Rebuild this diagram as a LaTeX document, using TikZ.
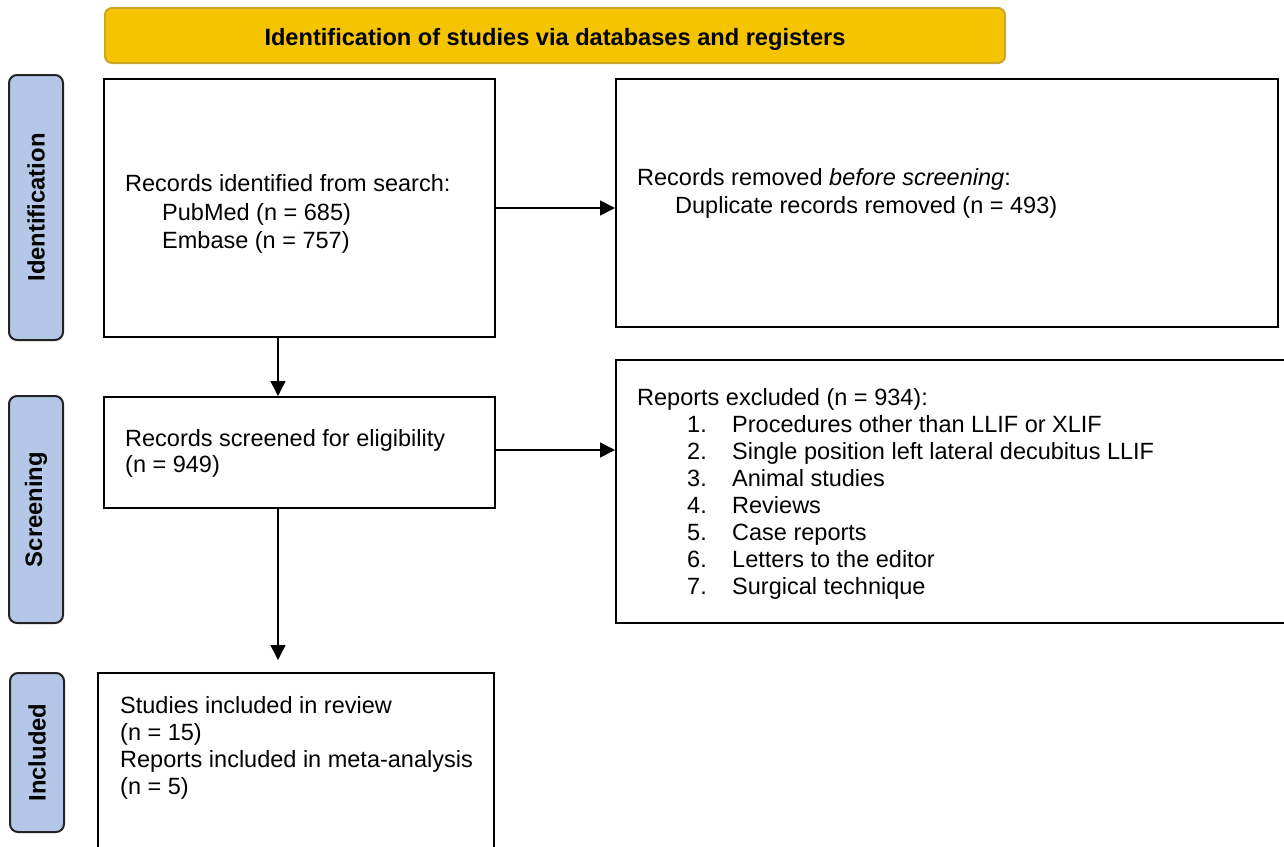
\documentclass[tikz,border=0pt]{standalone}
\usepackage{fontspec}
\setmainfont{Liberation Sans}
\usetikzlibrary{arrows.meta}
\definecolor{gold}{RGB}{245,196,0}
\definecolor{goldedge}{RGB}{205,165,40}
\definecolor{phasefill}{RGB}{180,199,231}
\definecolor{phaseedge}{RGB}{35,35,35}
\begin{document}
\begin{tikzpicture}[x=1pt,y=-1pt,
  box/.style={draw=black, line width=2pt, fill=white, inner sep=0pt},
  banner/.style={draw=goldedge, line width=2pt, fill=gold, rounded corners=7pt, inner sep=0pt},
  bantext/.style={anchor=base, inner sep=0pt, font=\fontsize{23.6}{27}\selectfont\bfseries},
  phase/.style={draw=phaseedge, line width=2pt, fill=phasefill, rounded corners=8pt, inner sep=0pt,
    rotate=90, font=\fontsize{23.8}{27}\selectfont\bfseries},
  txt/.style={anchor=base west, inner sep=0pt, font=\fontsize{23.5}{27}\selectfont},
  arr/.style={line width=1.5pt, -{Triangle[length=15pt,width=15pt]}}
]
\useasboundingbox (0,0) rectangle (1284,846);
\clip (0,0) rectangle (1284,846);

% banner
\node[banner, minimum width=900pt, minimum height=55pt] (ban) at (555,35.5) {};
\node[bantext] (bant) at (555,45) {Identification of studies via databases and registers};

% phase labels
\node[phase, minimum width=265pt, minimum height=54pt] (pid) at (36,207.5) {Identification};
\node[phase, minimum width=227pt, minimum height=54pt] (pscr) at (36,509.5) {Screening};
\node[phase, minimum width=159pt, minimum height=54pt] (pinc) at (37,752.5) {Included};

% boxes
\node[box, minimum width=391pt, minimum height=258pt] (b1) at (299.5,208) {};
\node[box, minimum width=662pt, minimum height=248pt] (b2) at (947,203) {};
\node[box, minimum width=391pt, minimum height=111pt] (b3) at (299.5,452.5) {};
\node[box, minimum width=684pt, minimum height=263pt] (b4) at (958,491.5) {};
\node[box, minimum width=396pt, minimum height=197pt] (b5) at (296,771.5) {};

% texts box 1
\node[txt] (t1a) at (125,191) {Records identified from search:};
\node[txt] (t1b) at (162,220) {PubMed (n = 685)};
\node[txt] (t1c) at (162,248) {Embase (n = 757)};

% texts box 2
\node[txt] (t2a) at (637,185) {Records removed \textit{before screening}:};
\node[txt] (t2b) at (675,213) {Duplicate records removed (n = 493)};

% texts box 3
\node[txt] (t3a) at (125,446) {Records screened for eligibility};
\node[txt] (t3b) at (125,472) {(n = 949)};

% texts box 4
\node[txt] (t4h) at (637,405) {Reports excluded (n = 934):};
\node[txt] (n1) at (687,432) {1.};
\node[txt] (i1) at (732,432) {Procedures other than LLIF or XLIF};
\node[txt] (n2) at (687,459) {2.};
\node[txt] (i2) at (732,459) {Single position left lateral decubitus LLIF};
\node[txt] (n3) at (687,486) {3.};
\node[txt] (i3) at (732,486) {Animal studies};
\node[txt] (n4) at (687,513) {4.};
\node[txt] (i4) at (732,513) {Reviews};
\node[txt] (n5) at (687,540) {5.};
\node[txt] (i5) at (732,540) {Case reports};
\node[txt] (n6) at (687,567) {6.};
\node[txt] (i6) at (732,567) {Letters to the editor};
\node[txt] (n7) at (687,594) {7.};
\node[txt] (i7) at (732,594) {Surgical technique};

% texts box 5
\node[txt] (t5a) at (120,713) {Studies included in review};
\node[txt] (t5b) at (120,740) {(n = 15)};
\node[txt] (t5c) at (120,767) {Reports included in meta-analysis};
\node[txt] (t5d) at (120,794) {(n = 5)};

% connectors
\coordinate (cx) at (278,0);
\coordinate (a5) at (278,660);
\draw[arr] (b1.east) -- (b1.east -| b2.west);
\draw[arr] (b3.east |- 0,450) -- (b4.west |- 0,450);
\draw[arr] (b1.south -| cx) -- (b3.north -| cx);
\draw[arr] (b3.south -| cx) -- (a5);
\end{tikzpicture}
\end{document}
